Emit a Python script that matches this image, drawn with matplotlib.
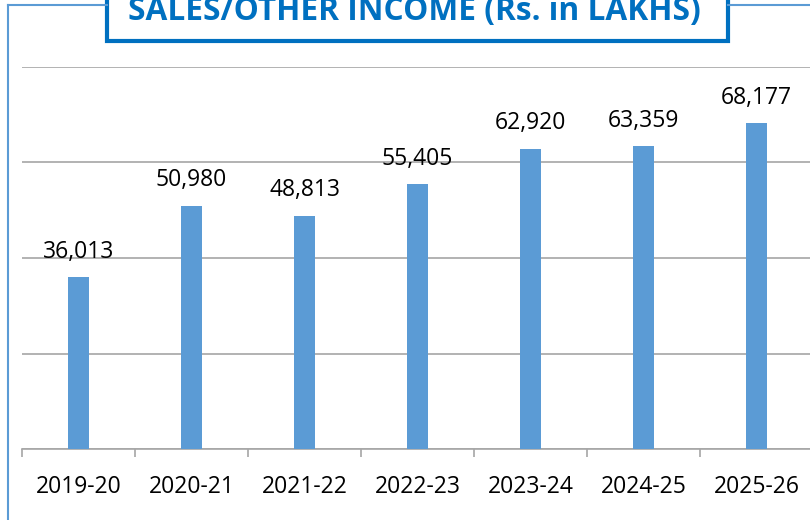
import matplotlib
matplotlib.use("Agg")
import matplotlib.pyplot as plt
from matplotlib.lines import Line2D
from matplotlib.patches import Rectangle

# Data
years = ["2019-20", "2020-21", "2021-22", "2022-23", "2023-24", "2024-25", "2025-26"]
income = [36013, 50980, 48813, 55405, 62920, 63359, 68177]
grid_values = [0, 20000, 40000, 60000, 80000]
title = "SALES/OTHER INCOME (Rs. in LAKHS)"

W, H = 810, 520
BAR_COLOR = "#5B9BD5"
TITLE_BLUE = "#0070C0"
FRAME_BLUE = "#5B9BD5"
GRID_GRAY = "#A6A6A6"

plt.rcParams["font.family"] = ["Open Sans", "DejaVu Sans"]

fig = plt.figure(figsize=(W / 100, H / 100), dpi=100)


def px(x, y):
    # pixel coords (top-left origin) -> figure fraction
    return x / W, 1 - y / H


# Axes spanning the plot area (px 22..813 wide, 67..449 tall)
left, top = px(22, 67)
right, bottom = px(813, 449)
ax = fig.add_axes([left, bottom, right - left, top - bottom])

x = list(range(len(years)))
ax.bar(x, income, width=0.19, color=BAR_COLOR, zorder=3)

for xi, val in zip(x, income):
    ax.annotate(f"{val:,}", (xi, val), xytext=(0, 14), textcoords="offset points",
                ha="center", va="baseline", fontsize=16.5, color="black")

ax.set_xlim(-0.5, len(years) - 0.5)
ax.set_ylim(grid_values[0], grid_values[-1])
ax.set_yticks(grid_values)
ax.yaxis.grid(True, color=GRID_GRAY, linewidth=1.2, zorder=0)
ax.tick_params(axis="y", left=False, labelleft=False)

ax.set_xticks(x)
ax.set_xticklabels(years, fontsize=16.5)
ax.tick_params(axis="x", which="major", length=0, pad=19)
ax.set_xticks([i - 0.5 for i in range(len(years) + 1)], minor=True)
ax.tick_params(axis="x", which="minor", length=6, color=GRID_GRAY, width=1.2)

for side in ["top", "left", "right"]:
    ax.spines[side].set_visible(False)
ax.spines["bottom"].set_color(GRID_GRAY)
ax.spines["bottom"].set_linewidth(1.2)
ax.set_facecolor("none")

# Outer frame (left edge and top edge around the title box)
fig.add_artist(Line2D([8 / W, 8 / W], [1 - 5 / H, 0], transform=fig.transFigure,
                      color=FRAME_BLUE, linewidth=1.5))
fig.add_artist(Line2D([8 / W, 107 / W], [1 - 5 / H, 1 - 5 / H], transform=fig.transFigure,
                      color=FRAME_BLUE, linewidth=1.5))
fig.add_artist(Line2D([728 / W, 1], [1 - 5 / H, 1 - 5 / H], transform=fig.transFigure,
                      color=FRAME_BLUE, linewidth=1.5))

# Title box
bx, by = px(107, 41)
fig.add_artist(Rectangle((bx, by), (728 - 107) / W, 0.2, transform=fig.transFigure,
                         facecolor="white", edgecolor=TITLE_BLUE, linewidth=3, clip_on=False))
tx, ty = px(414, 20)
fig.text(tx, ty, title, ha="center", va="baseline", fontsize=22.8, fontweight="bold",
         color=TITLE_BLUE)

fig.savefig("out.png", dpi=100)
